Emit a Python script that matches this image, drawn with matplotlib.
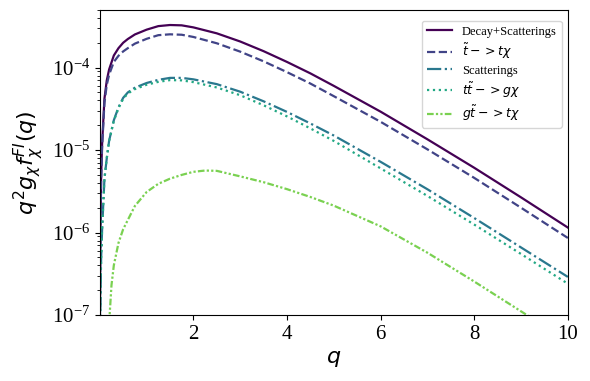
import numpy as np
import matplotlib
matplotlib.use('Agg')
import matplotlib.pyplot as plt

plt.rcParams['font.family'] = 'serif'
plt.rcParams['font.serif'] = ['Liberation Serif', 'DejaVu Serif']
plt.rcParams['mathtext.fontset'] = 'dejavusans'

# momentum grid and curves
q = [0.005, 0.01, 0.02, 0.03, 0.05, 0.1, 0.15, 0.2, 0.3, 0.4, 0.5, 0.6, 0.75,
     1.0, 1.25, 1.5, 1.75, 2.0, 2.5, 3.0, 3.5, 4.0, 4.5, 5.0, 6.0, 7.0, 8.0,
     9.0, 10.0]

total = [1.2e-7, 5e-7, 2.2e-6, 5e-6, 1.2e-5, 4.2e-5, 7.0e-5, 9.5e-5, 1.4e-4,
         1.72e-4, 2.0e-4, 2.22e-4, 2.52e-4, 2.88e-4, 3.18e-4, 3.28e-4, 3.25e-4,
         3.07e-4, 2.6e-4, 2.07e-4, 1.58e-4, 1.17e-4, 8.5e-5, 6.0e-5, 2.92e-5,
         1.35e-5, 6.1e-6, 2.67e-6, 1.15e-6]

decay = [9e-8, 4e-7, 1.9e-6, 4.5e-6, 1.09e-5, 3.75e-5, 6.2e-5, 8.2e-5, 1.17e-4,
         1.39e-4, 1.57e-4, 1.72e-4, 1.95e-4, 2.23e-4, 2.47e-4, 2.53e-4, 2.5e-4,
         2.35e-4, 1.97e-4, 1.56e-4, 1.19e-4, 8.8e-5, 6.4e-5, 4.5e-5, 2.2e-5,
         1.02e-5, 4.6e-6, 2.0e-6, 8.6e-7]

scat = [3e-8, 1.0e-7, 2.8e-7, 5e-7, 1.1e-6, 4.5e-6, 8e-6, 1.3e-5, 2.3e-5,
        3.3e-5, 4.3e-5, 5.0e-5, 5.7e-5, 6.5e-5, 7.1e-5, 7.5e-5, 7.5e-5,
        7.2e-5, 6.3e-5, 5.1e-5, 3.9e-5, 2.9e-5, 2.1e-5, 1.5e-5, 7.2e-6,
        3.35e-6, 1.5e-6, 6.6e-7, 2.9e-7]

ttg = [3e-8, 1.0e-7, 2.8e-7, 5e-7, 1.1e-6, 4.5e-6, 8e-6, 1.29e-5, 2.26e-5,
       3.22e-5, 4.19e-5, 4.85e-5, 5.48e-5, 6.19e-5, 6.71e-5, 7.05e-5, 7.0e-5,
       6.66e-5, 5.74e-5, 4.62e-5, 3.49e-5, 2.56e-5, 1.83e-5, 1.29e-5, 6.0e-6,
       2.78e-6, 1.25e-6, 5.5e-7, 2.4e-7]

q_gt = [0.2, 0.25, 0.3, 0.4, 0.5, 0.75, 1.0, 1.25, 1.5, 1.75, 2.0, 2.25, 2.5,
        3.0, 3.5, 4.0, 4.5, 5.0, 6.0, 7.0, 8.0, 9.0, 10.0]
gt = [8e-8, 2.3e-7, 4.0e-7, 7.5e-7, 1.1e-6, 2.1e-6, 3.1e-6, 3.9e-6, 4.5e-6,
      5.0e-6, 5.45e-6, 5.65e-6, 5.6e-6, 4.8e-6, 4.08e-6, 3.36e-6, 2.7e-6,
      2.12e-6, 1.19e-6, 5.7e-7, 2.55e-7, 1.11e-7, 4.85e-8]

colors = plt.cm.viridis(np.linspace(0, 0.8, 5))

fig = plt.figure(figsize=(5.9, 3.81), dpi=100)
ax = fig.add_axes([0.1695, 0.173, 0.793, 0.801])

ax.plot(q, total, color=colors[0], lw=1.6, ls='-', label='Decay+Scatterings')
ax.plot(q, decay, color=colors[1], lw=1.6, ls='--', label=r'$\tilde{t}->t\chi$')
ax.plot(q, scat, color=colors[2], lw=1.6, ls='-.', label='Scatterings')
ax.plot(q, ttg, color=colors[3], lw=1.6, ls=':', label=r'$t\tilde{t}->g\chi$')
ax.plot(q_gt, gt, color=colors[4], lw=1.6, ls=(0, (3, 1, 1, 1, 1, 1)),
        label=r'$g\tilde{t}->t\chi$')

ax.set_yscale('log')
ax.set_xlim(0.005, 10)
ax.set_ylim(1e-7, 5e-4)
ax.set_xticks([2, 4, 6, 8, 10])
ax.tick_params(labelsize=15)

ax.set_xlabel(r'$q$', fontsize=16)
ax.set_ylabel(r'$q^2 g_\chi f_\chi^{FI}(q)$', fontsize=16)
ax.legend(fontsize=9, loc='upper right', labelspacing=0.3,
          bbox_to_anchor=(1.0, 0.985))

fig.savefig('out.png', dpi=100)
